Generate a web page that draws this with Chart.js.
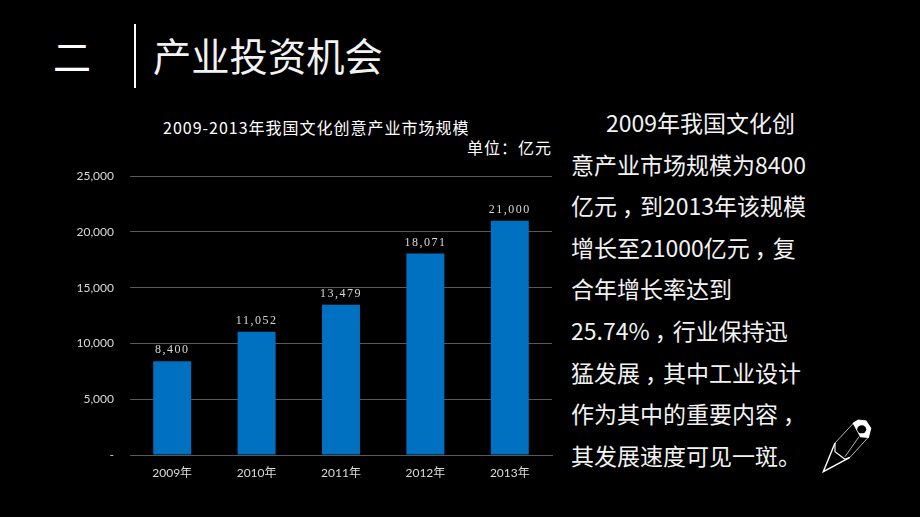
<!DOCTYPE html>
<html lang="zh">
<head>
<meta charset="utf-8">
<title>产业投资机会</title>
<script src="https://cdn.jsdelivr.net/npm/chart.js@4"></script>
<style>
  html, body { margin: 0; padding: 0; background: #000; }
  body { position: relative; width: 920px; height: 517px; overflow: hidden; color: #fff; font-family: "Noto Sans CJK SC", sans-serif; }
  .abs { position: absolute; white-space: nowrap; }
  #num { left: 53px; top: 27px; font-size: 38px; line-height: 56px; }
  #rule { left: 134px; top: 24px; width: 2px; height: 64px; background: #fff; }
  #heading { left: 153px; top: 27px; font-size: 38.3px; line-height: 56px; color: #f2f2f2; }
  #chartTitle { left: 163px; top: 116px; font-size: 16px; line-height: 22px; letter-spacing: 1px; }
  #unit { left: 467px; top: 136px; font-size: 16px; line-height: 22px; letter-spacing: 1px; }
  #chartBox { position: absolute; left: 60px; top: 153px; width: 500px; height: 337px; }
  #para { left: 571px; top: 102px; font-size: 23px; line-height: 41.6px; color: #f2f2f2; }
  .c { position: relative; left: 5px; }
  #pencil { position: absolute; left: 818px; top: 418px; }
</style>
</head>
<body>
<div class="abs" id="num">二</div>
<div class="abs" id="rule"></div>
<div class="abs" id="heading">产业投资机会</div>
<div class="abs" id="chartTitle">2009-2013年我国文化创意产业市场规模</div>
<div class="abs" id="unit">单位：亿元</div>
<div id="chartBox"><canvas id="marketChart"></canvas></div>
<div class="abs" id="para"><span style="margin-left:35px">2009年我国文化创</span><br>意产业市场规模为8400<br>亿元<span class="c">，</span>到2013年该规模<br>增长至21000亿元<span class="c">，</span>复<br>合年增长率达到<br>25.74%<span class="c">，</span>行业保持迅<br>猛发展<span class="c">，</span>其中工业设计<br>作为其中的重要内容<span class="c">，</span><br>其发展速度可见一斑。</div>
<svg id="pencil" width="58" height="58" viewBox="0 0 58 58" fill="none" stroke="#fff" stroke-width="1.2">
  <path d="M17 25 L5.3 53.7 L32 39.3" stroke-width="1.4"/>
  <path d="M17 25 L17 33.7 L27 41.3 L32 39.3" stroke-width="1.1"/>
  <path d="M17 25 L35.3 5.3 M27 38.7 L41 18.7 M32 39.3 L50.3 19.3" stroke-width="0.7"/>
  <path d="M35.3 5.3 L40.3 2 L48 3 L52.7 10.3 L50.3 19.3 L42.7 18.7 Z" fill="#fff"/>
  <ellipse cx="43.7" cy="11.3" rx="4.5" ry="4" fill="#000" stroke="none"/>
</svg>
<script>
const categories = ["2009年", "2010年", "2011年", "2012年", "2013年"];
const marketSize = [8400, 11052, 13479, 18071, 21000];
const tickValues = [0, 5000, 10000, 15000, 20000, 25000];
const tickLabels = ["-", "5,000", "10,000", "15,000", "20,000", "25,000"];

const valueLabels = {
  id: "valueLabels",
  afterDatasetsDraw(chart) {
    const ctx = chart.ctx;
    const bars = chart.getDatasetMeta(0).data;
    ctx.save();
    ctx.font = '12px "Liberation Serif"';
    ctx.letterSpacing = "1.5px";
    ctx.fillStyle = "#d9d9d9";
    ctx.textAlign = "center";
    ctx.textBaseline = "bottom";
    bars.forEach((bar, i) => {
      ctx.fillText(marketSize[i].toLocaleString("en-US"), bar.x, bar.y - 5);
    });
    ctx.restore();
  },
};

new Chart(document.getElementById("marketChart"), {
  type: "bar",
  data: {
    labels: categories,
    datasets: [
      {
        data: marketSize,
        backgroundColor: "#0070c0",
        barPercentage: 0.45,
        categoryPercentage: 1,
      },
    ],
  },
  options: {
    responsive: true,
    maintainAspectRatio: false,
    animation: false,
    layout: { padding: { top: 9, right: 8, bottom: 5, left: 0 } },
    plugins: { legend: { display: false }, tooltip: { enabled: false } },
    scales: {
      x: {
        grid: { display: false },
        border: { color: "#595959", width: 1 },
        ticks: { color: "#d9d9d9", font: { family: '"Lato", "Noto Sans CJK SC"', size: 12 }, padding: 3 },
        afterFit(axis) { axis.height = 30; },
      },
      y: {
        min: 0,
        max: 25000,
        afterBuildTicks(axis) { axis.ticks = tickValues.map((value) => ({ value })); },
        grid: { color: "#595959", drawTicks: false },
        border: { display: false },
        ticks: {
          color: "#d9d9d9",
          font: { family: '"Lato"', size: 12 },
          padding: 16,
          callback: (value) => tickLabels[tickValues.indexOf(value)],
        },
        afterFit(axis) { axis.width = 70; },
      },
    },
  },
  plugins: [valueLabels],
});
</script>
</body>
</html>
